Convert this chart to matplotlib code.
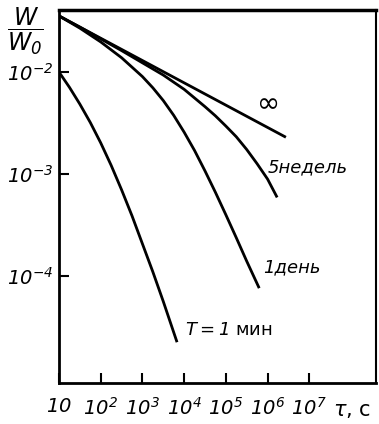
import matplotlib
matplotlib.use('Agg')
import matplotlib.pyplot as plt
import numpy as np

plt.rcParams['font.family'] = ['DejaVu Sans']
plt.rcParams['mathtext.fontset'] = 'custom'
plt.rcParams['mathtext.rm'] = 'DejaVu Sans:oblique'
plt.rcParams['mathtext.it'] = 'DejaVu Sans:oblique'
plt.rcParams['mathtext.default'] = 'it'

# log10 values
inf_lgt = [1.0, 6.44]
inf_lgw = [-1.45, -2.64]

wk5_lgt = [1.0, 1.5, 2.0, 2.5, 3.0, 3.5, 4.0, 4.5, 4.75, 5.0, 5.25, 5.5, 5.75, 6.0, 6.23]
wk5_lgw = [-1.45, -1.56, -1.675, -1.79, -1.91, -2.03, -2.17, -2.34, -2.43, -2.53,
           -2.635, -2.76, -2.90, -3.05, -3.23]

day1_lgt = [1.0, 1.5, 2.0, 2.5, 3.0, 3.25, 3.5, 3.75, 4.0, 4.25, 4.5, 4.75, 5.0, 5.25, 5.5, 5.8]
day1_lgw = [-1.45, -1.57, -1.705, -1.86, -2.045, -2.155, -2.28, -2.425, -2.59, -2.77,
            -2.97, -3.18, -3.40, -3.625, -3.855, -4.12]

min1_lgt = [1.0, 1.25, 1.5, 1.75, 2.0, 2.25, 2.5, 2.75, 3.0, 3.25, 3.5, 3.83]
min1_lgw = [-2.0, -2.15, -2.315, -2.495, -2.695, -2.915, -3.155, -3.41, -3.685, -3.96, -4.25, -4.65]

xticks = [1e1, 1e2, 1e3, 1e4, 1e5, 1e6, 1e7]
xticklabels = ['$10$', '$10^2$', '$10^3$', '$10^4$', '$10^5$', '$10^6$', '$10^7$']
yticks = [1e-2, 1e-3, 1e-4]
yticklabels = ['$10^{-2}$', '$10^{-3}$', '$10^{-4}$']

W, H = 379, 424
fig = plt.figure(figsize=(W / 100, H / 100), dpi=100)
ax = fig.add_axes([59 / W, 1 - 383 / H, (376 - 59) / W, (383 - 10) / H])
ax.set_xscale('log')
ax.set_yscale('log')

for lt, lg in [(inf_lgt, inf_lgw), (wk5_lgt, wk5_lgw),
               (day1_lgt, day1_lgw), (min1_lgt, min1_lgw)]:
    ax.plot(10 ** np.array(lt), 10 ** np.array(lg), color='black', lw=2.0,
            solid_capstyle='butt', solid_joinstyle='round')

ax.set_xlim(1e1, 10 ** 8.6)
ax.set_ylim(10 ** -5.05, 10 ** -1.392)

ax.set_xticks(xticks)
ax.set_xticklabels(xticklabels, fontsize=14)
ax.set_yticks(yticks)
ax.set_yticklabels(yticklabels, fontsize=14)
ax.minorticks_off()
ax.tick_params(direction='in', length=7, width=1.5)
ax.tick_params(axis='x', pad=10)
ax.tick_params(axis='y', pad=4)

ax.spines['top'].set_linewidth(2.5)
ax.spines['right'].set_linewidth(1.5)
ax.spines['left'].set_linewidth(2)
ax.spines['bottom'].set_linewidth(2)

# axis captions
fig.text(25 / W, 1 - 31 / H, r'$\dfrac{W}{W_0}$', fontsize=17, ha='center', va='center')
fig.text(333 / W, 1 - 410 / H, r'$\tau$, c', fontsize=15, ha='left', va='center')

# curve labels
fig.text(256 / W, 1 - 102 / H, r'$\infty$', fontsize=20, ha='left', va='center')
fig.text(268 / W, 1 - 167 / H, '5недель', fontsize=13, style='italic', ha='left', va='center')
fig.text(263 / W, 1 - 267 / H, '1день', fontsize=13, style='italic', ha='left', va='center')
fig.text(185 / W, 1 - 330 / H, r'$T=1$ мин', fontsize=13, ha='left', va='center')

fig.savefig('out.png', dpi=100)
